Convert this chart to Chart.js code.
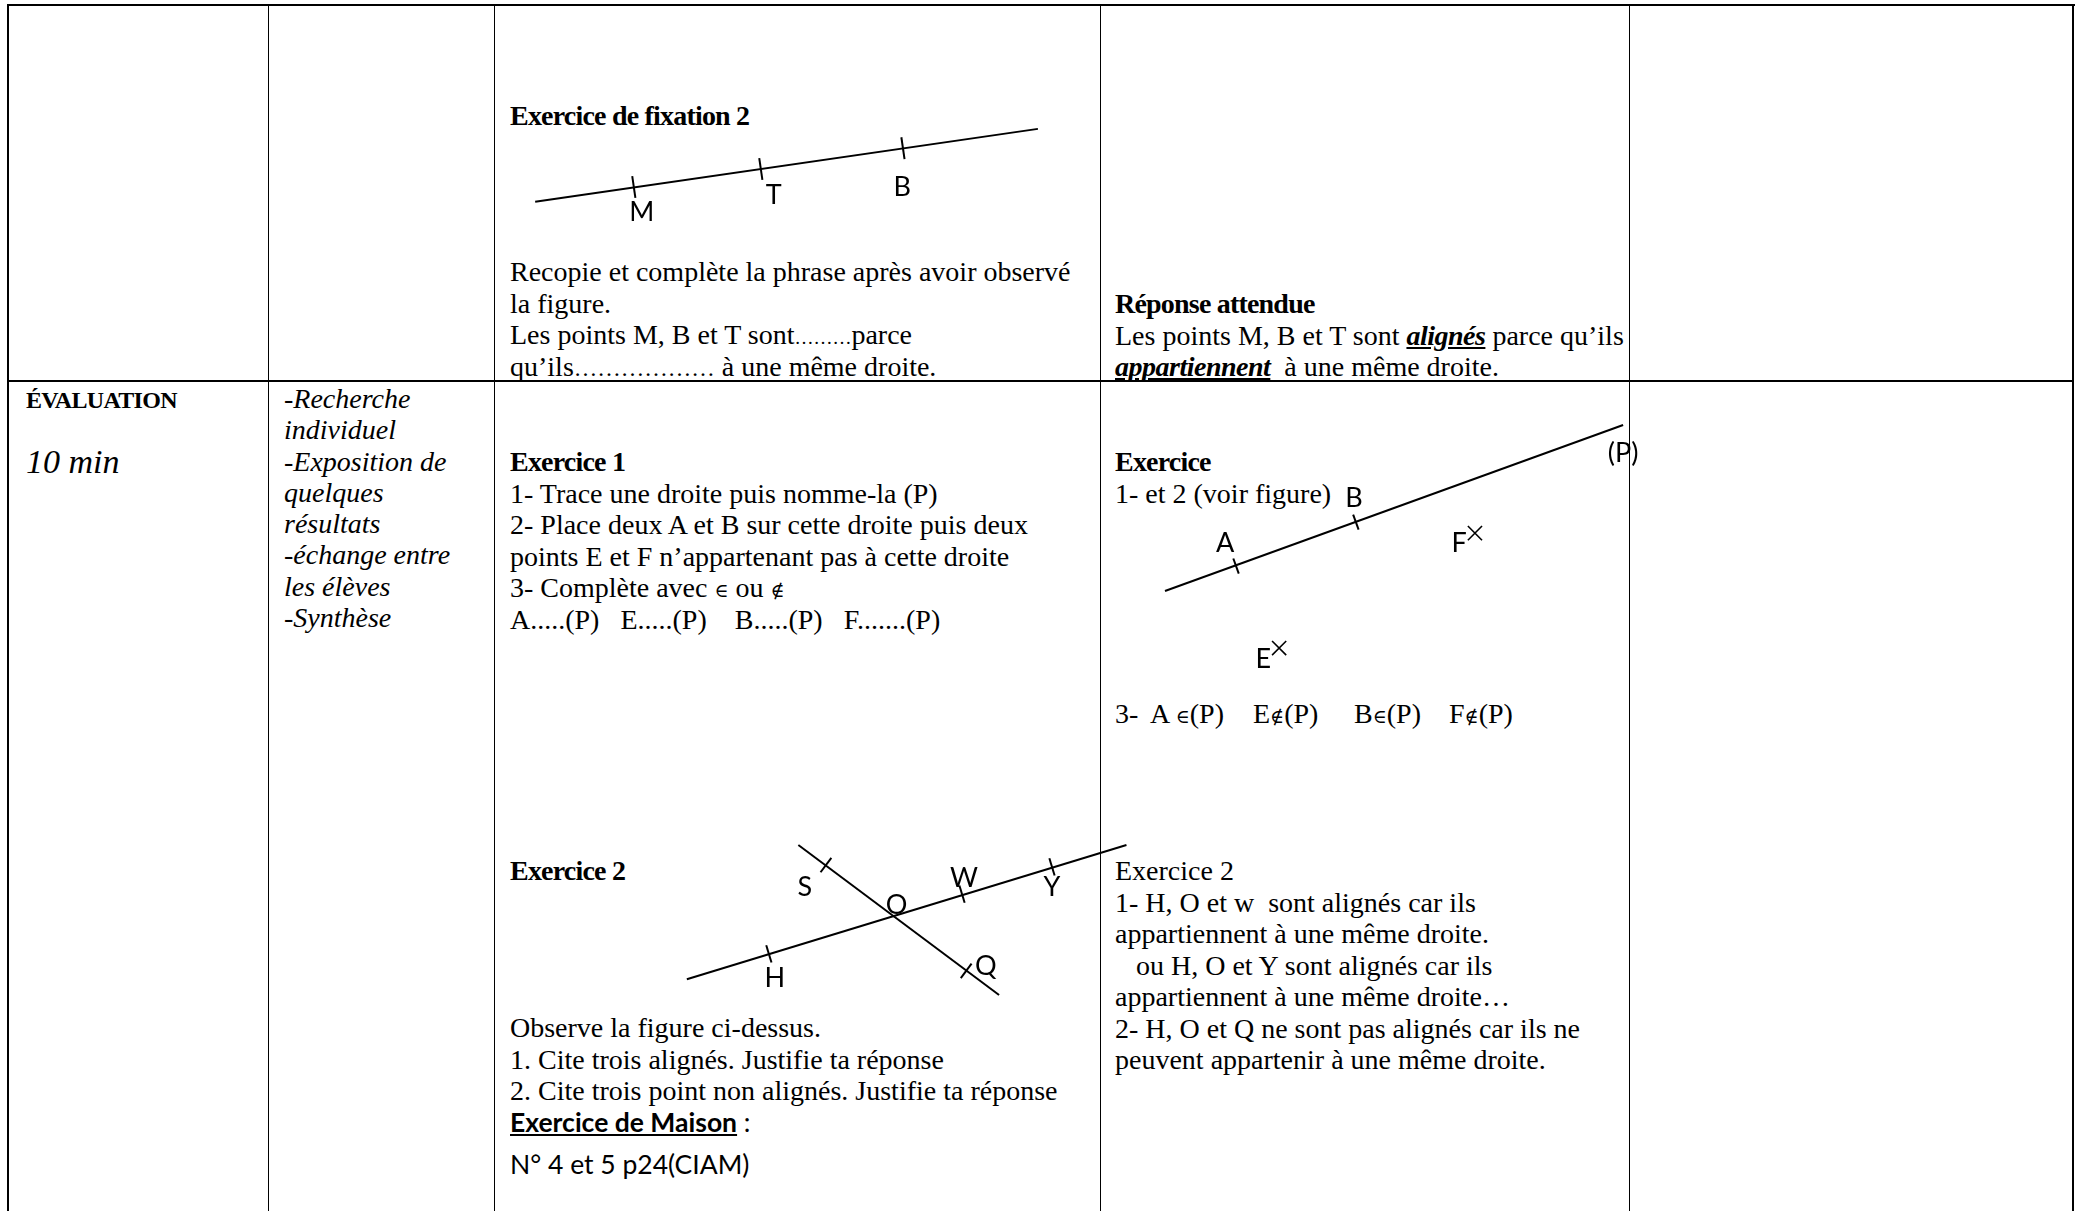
<!DOCTYPE html>
<html lang="fr">
<head>
<meta charset="utf-8">
<title>Évaluation - points alignés</title>
<script src="https://cdn.jsdelivr.net/npm/chart.js@4.4.1/dist/chart.umd.min.js"></script>
<style>
html,body{margin:0;padding:0;background:#fff;}
body{width:2083px;height:1211px;position:relative;overflow:hidden;font-family:'Liberation Serif',serif;color:#000;}
.rule{position:absolute;background:#000;}
.t{position:absolute;font-size:28px;line-height:31.5px;white-space:pre;}
.h{font-weight:bold;letter-spacing:-0.8px;}
.it{font-style:italic;}
.sans{font-family:Lato,sans-serif;font-size:26.5px;line-height:36px;}
.bu{font-weight:bold;font-style:italic;text-decoration:underline;letter-spacing:-0.5px;}
.m{font-family:'DejaVu Serif',serif;font-size:19px;line-height:0;}
.dots{line-height:0;}
.cell{display:inline-block;}
canvas.fig{position:absolute;}
</style>
</head>
<body>
<!-- grille du tableau -->
<div class="rule" style="left:7px;top:4px;width:2068px;height:2px"></div>
<div class="rule" style="left:7px;top:4px;width:2px;height:1207px"></div>
<div class="rule" style="left:2072px;top:4px;width:2px;height:1207px"></div>
<div class="rule" style="left:268px;top:4px;width:1px;height:1207px"></div>
<div class="rule" style="left:494px;top:4px;width:1px;height:1207px"></div>
<div class="rule" style="left:1100px;top:4px;width:1px;height:1207px"></div>
<div class="rule" style="left:1629px;top:4px;width:1px;height:1207px"></div>
<div class="rule" style="left:7px;top:380px;width:2067px;height:2px"></div>

<!-- ligne 1 -->
<div class="t h" style="left:510px;top:100px">Exercice de fixation 2</div>
<div class="t" style="left:510px;top:256px">Recopie et complète la phrase après avoir observé<br>la figure.<br>Les points M, B et T sont<span class="dots" style="font-size:19px">………</span>parce<br>qu’ils<span class="dots" style="font-size:23.5px">………………</span> à une même droite.</div>
<div class="t" style="left:1115px;top:288px"><span class="h">Réponse attendue</span><br>Les points M, B et T sont <span class="bu">alignés</span> parce qu’ils<br><span class="bu">appartiennent</span>  à une même droite.</div>

<!-- ligne 2 -->
<div class="t" style="left:26px;top:385px;font-size:24px;font-weight:bold;letter-spacing:-0.7px">ÉVALUATION</div>
<div class="t it" style="left:26px;top:442px;font-size:34px;line-height:40px">10 min</div>
<div class="t it" style="left:284px;top:383px;line-height:31.3px">-Recherche<br>individuel<br>-Exposition de<br>quelques<br>résultats<br>-échange entre<br>les élèves<br>-Synthèse</div>

<div class="t" style="left:510px;top:446px"><span class="h">Exercice 1</span><br>1- Trace une droite puis nomme-la (P)<br>2- Place deux A et B sur cette droite puis deux<br>points E et F n’appartenant pas à cette droite<br>3- Complète avec <span class="m">∈</span> ou <span class="m">∉</span><br>A.....(P)   E.....(P)    B.....(P)   F.......(P)</div>
<div class="t" style="left:1115px;top:446px"><span class="h">Exercice</span><br>1- et 2 (voir figure)</div>
<div class="t" style="left:1115px;top:698px"><span class="cell" style="width:35px">3-</span><span class="cell" style="width:103px">A <span class="m">∈</span>(P)</span><span class="cell" style="width:101px">E<span class="m">∉</span>(P)</span><span class="cell" style="width:95px">B<span class="m">∈</span>(P)</span><span class="cell">F<span class="m">∉</span>(P)</span></div>

<div class="t h" style="left:510px;top:855px">Exercice 2</div>
<div class="t" style="left:510px;top:1012px">Observe la figure ci-dessus.<br>1. Cite trois alignés. Justifie ta réponse<br>2. Cite trois point non alignés. Justifie ta réponse</div>
<div class="t sans" style="left:510px;top:1104px"><span style="font-weight:bold;text-decoration:underline">Exercice de Maison</span> :</div>
<div class="t sans" style="left:510px;top:1146px">N° 4 et 5 p24(CIAM)</div>

<div class="t" style="left:1115px;top:855px">Exercice 2<br>1- H, O et w  sont alignés car ils<br>appartiennent à une même droite.<br>   ou H, O et Y sont alignés car ils<br>appartiennent à une même droite…<br>2- H, O et Q ne sont pas alignés car ils ne<br>peuvent appartenir à une même droite.</div>

<!-- figures -->
<canvas id="figFixation" class="fig" width="570" height="140" style="left:500px;top:100px"></canvas>
<canvas id="figEx1" class="fig" width="560" height="290" style="left:1120px;top:400px"></canvas>
<canvas id="figEx2" class="fig" width="480" height="200" style="left:660px;top:820px"></canvas>

<script>
const CM = 37.8;

// Exercice de fixation 2 : droite, points M T B
const fixDroite = [[0.93, 1.01], [14.23, 2.94]];
const fixPoints = [[3.54, 1.40], [6.90, 1.88], [10.66, 2.43]];
const fixNoms = ['M', 'T', 'B'];
const fixNomsPos = [[3.75, 0.72], [7.24, 1.18], [10.64, 1.39]];

// Exercice 1 (réponse) : droite (P), A et B dessus, E et F hors
const ex1Droite = [[1.19, 2.62], [13.31, 7.01]];
const ex1Points = [[3.07, 3.28], [6.24, 4.44]];
const ex1Croix = [[9.39, 4.15], [4.21, 1.11]];
const ex1Noms = ['A', 'B', 'F', 'E', '(P)'];
const ex1NomsPos = [[2.78, 3.89], [6.19, 5.08], [8.97, 3.89], [3.79, 0.82], [13.31, 6.27]];

// Exercice 2 : droites (HY) et (SQ) sécantes en O
const ex2DroiteHY = [[0.71, 1.08], [12.34, 4.63]];
const ex2PointsHY = [[2.88, 1.75], [7.99, 3.33], [10.37, 4.05]];
const ex2DroiteSQ = [[3.66, 4.63], [8.97, 0.66]];
const ex2PointsSQ = [[4.39, 4.10], [8.10, 1.30]];
const ex2Noms = ['S', 'O', 'W', 'Y', 'H', 'Q'];
const ex2NomsPos = [[3.83, 3.52], [6.26, 3.04], [8.04, 3.76], [10.37, 3.52], [3.04, 1.11], [8.62, 1.43]];

const toXY = pts => pts.map(p => ({x: p[0], y: p[1]}));

function droite(pts){
    return {data: toXY(pts), showLine: true, borderColor: '#000', borderWidth: 2, pointRadius: 0};
}

// petits traits perpendiculaires à la droite
function graduations(pts, line, r){
    var a = Math.atan2(line[1][1] - line[0][1], line[1][0] - line[0][0]) * 180 / Math.PI;
    return {
        data: toXY(pts),
        pointStyle: 'line',
        pointRotation: 90 - a,
        pointRadius: r,
        pointBorderWidth: 2,
        pointBorderColor: '#000',
        pointBackgroundColor: '#000'
    };
}

function croix(pts){
    return {data: toXY(pts), pointStyle: 'crossRot', pointRadius: 10, pointBorderWidth: 1.6, pointBorderColor: '#000'};
}

function etiquettes(noms, pos){
    return {
        id: 'etiquettes',
        afterDatasetsDraw(chart){
            const ctx = chart.ctx;
            ctx.save();
            ctx.font = '27px Lato, sans-serif';
            ctx.fillStyle = '#000';
            ctx.textAlign = 'center';
            ctx.textBaseline = 'middle';
            noms.forEach((n, i) => {
                ctx.fillText(n, chart.scales.x.getPixelForValue(pos[i][0]), chart.scales.y.getPixelForValue(pos[i][1]));
            });
            ctx.restore();
        }
    };
}

function figure(id, datasets, noms, pos){
    var cv = document.getElementById(id);
    return new Chart(cv, {
        type: 'scatter',
        data: {datasets: datasets},
        options: {
            responsive: false,
            animation: false,
            events: [],
            layout: {padding: 0, autoPadding: false},
            scales: {
                x: {type: 'linear', display: false, min: 0, max: cv.width / CM},
                y: {type: 'linear', display: false, min: 0, max: cv.height / CM}
            },
            plugins: {legend: {display: false}, tooltip: {enabled: false}}
        },
        plugins: [etiquettes(noms, pos)]
    });
}

figure('figFixation', [droite(fixDroite), graduations(fixPoints, fixDroite, 11)], fixNoms, fixNomsPos);
figure('figEx1', [droite(ex1Droite), graduations(ex1Points, ex1Droite, 8), croix(ex1Croix)], ex1Noms, ex1NomsPos);
figure('figEx2', [
    droite(ex2DroiteHY), droite(ex2DroiteSQ),
    graduations(ex2PointsHY, ex2DroiteHY, 9), graduations(ex2PointsSQ, ex2DroiteSQ, 9)
], ex2Noms, ex2NomsPos);
</script>
</body>
</html>
